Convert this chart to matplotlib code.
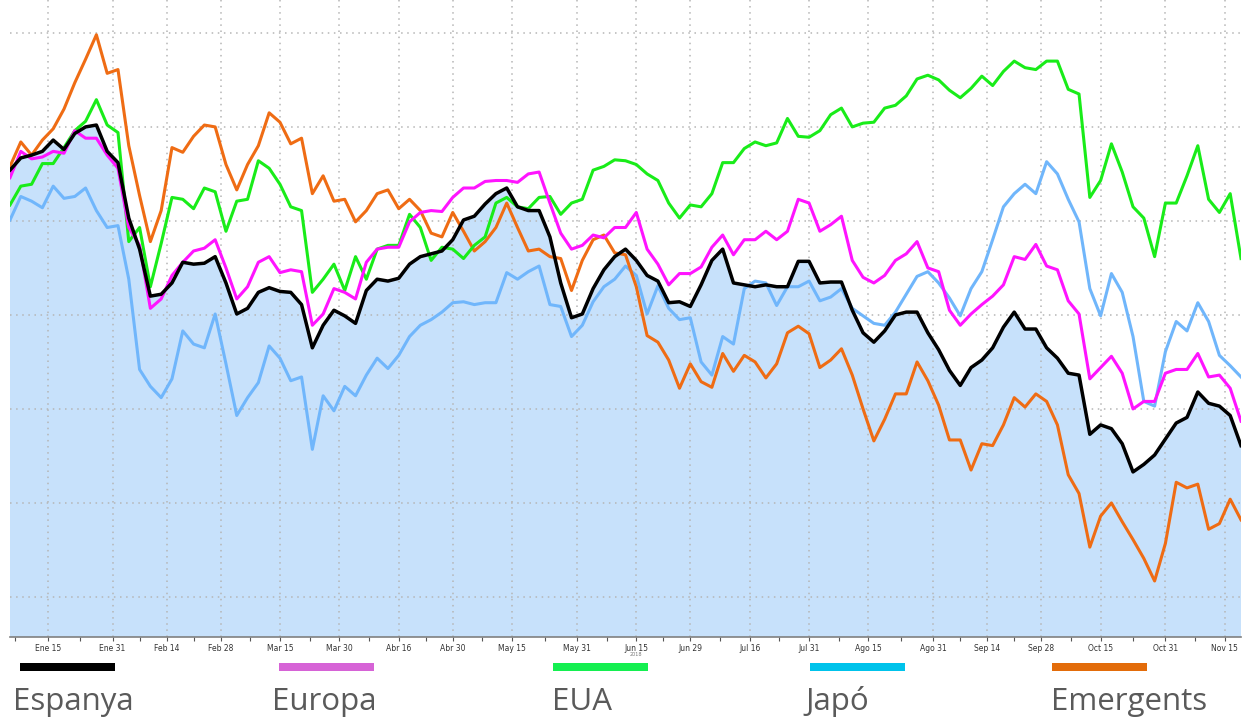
import numpy as np
import pandas as pd
import matplotlib
matplotlib.use("Agg")
import matplotlib.pyplot as plt
from matplotlib.patches import Rectangle
from matplotlib.ticker import FixedLocator
from matplotlib.transforms import blended_transform_factory

# ---------------- data ----------------
start_date = "2018-01-04"
end_date = "2018-11-20"
sample_step = 2  # one reading every two trading days

espanya = [105.4, 106.7, 107.0, 107.4, 108.6, 107.6, 109.3, 110.0, 110.2, 107.4,
           106.2, 100.3, 97.0, 92.0, 92.2, 93.4, 95.6, 95.4, 95.5, 96.2,
           93.4, 90.1, 90.7, 92.4, 92.9, 92.5, 92.4, 91.1, 86.5,
           88.9, 90.5, 89.9, 89.1, 92.6, 93.8, 93.6, 93.9, 95.4, 96.2, 96.5,
           96.8, 98.0, 100.1, 100.5, 101.8, 102.9, 103.5, 101.5, 101.1, 101.1,
           98.3, 93.4, 89.7, 90.1, 92.8, 94.8, 96.2, 97.0,
           95.8, 94.2, 93.6, 91.3, 91.4, 90.9, 93.2, 95.8, 97.0, 93.4, 93.2, 93.0,
           93.2, 93.0, 93.0, 95.7, 95.7, 93.4, 93.5, 93.5, 90.5, 88.1,
           87.1, 88.3, 90.0, 90.3, 90.3, 88.1, 86.3,
           84.1, 82.5, 84.4, 85.2, 86.5, 88.7, 90.3, 88.5, 88.5, 86.5, 85.4, 83.8, 83.6,
           77.3, 78.3, 77.9, 76.3, 73.3, 74.1, 75.1, 76.8, 78.5, 79.1,
           81.8, 80.6, 80.3, 79.3, 76.1]

europa = [104.6, 107.4, 106.6, 106.8, 107.4, 107.2, 109.6, 108.8, 108.8, 107.0,
          105.6, 99.3, 97.4, 90.7, 91.7, 94.2, 95.6, 96.8, 97.1, 98.0,
          95.0, 91.7, 93.0, 95.6, 96.2, 94.5, 94.8, 94.6, 88.9,
          90.1, 92.8, 92.4, 91.7, 95.6, 97.0, 97.2, 97.2, 99.9, 100.9, 101.1,
          101.0, 102.5, 103.5, 103.5, 104.2, 104.3, 104.3, 104.1, 105.0, 105.2,
          101.9, 98.7, 97.0, 97.4, 98.5, 98.2, 99.3, 99.3,
          100.9, 97.0, 95.4, 93.2, 94.4, 94.4, 95.1, 97.2, 98.5, 96.4, 98.0, 98.0,
          98.9, 98.0, 98.9, 102.3, 101.9, 98.9, 99.6, 100.5, 95.8, 94.0,
          93.4, 94.2, 95.8, 96.5, 97.8, 95.0, 94.6,
          90.5, 88.9, 90.1, 91.1, 92.0, 93.2, 96.2, 95.9, 97.5, 95.2, 94.8, 91.5, 90.1,
          83.2, 84.4, 85.6, 83.8, 80.0, 80.8, 80.8, 83.8, 84.2, 84.2,
          85.9, 83.4, 83.6, 82.2, 78.7]

eua = [101.7, 103.7, 103.9, 106.1, 106.1, 107.8, 109.6, 110.6, 112.9, 110.2,
       109.4, 97.8, 99.3, 93.0, 97.6, 102.5, 102.3, 101.3, 103.5, 103.1,
       98.9, 102.1, 102.3, 106.4, 105.6, 103.9, 101.5, 101.1, 92.4,
       93.8, 95.4, 92.6, 96.2, 93.8, 97.0, 97.4, 97.4, 100.7, 99.3, 95.8,
       97.2, 97.0, 96.0, 97.4, 98.3, 101.9, 102.5, 101.5, 101.3, 102.5,
       102.6, 100.7, 101.9, 102.3, 105.4, 105.8, 106.5, 106.4,
       106.0, 105.0, 104.3, 101.9, 100.3, 101.7, 101.5, 102.9, 106.2, 106.2, 107.7, 108.4,
       108.0, 108.3, 110.9, 109.0, 108.9, 109.6, 111.3, 112.0, 110.0, 110.4,
       110.5, 112.0, 112.3, 113.3, 115.1, 115.5, 115.0,
       113.9, 113.1, 114.1, 115.4, 114.4, 115.9, 117.0, 116.3, 116.1, 117.0, 117.0, 114.0, 113.5,
       102.5, 104.3, 108.2, 105.2, 101.5, 100.3, 96.2, 101.9, 101.9, 104.8,
       108.0, 102.3, 100.9, 102.9, 96.0]

japo = [100.1, 102.6, 102.1, 101.4, 103.7, 102.4, 102.6, 103.5, 101.1, 99.3,
        99.5, 93.8, 84.2, 82.4, 81.2, 83.2, 88.3, 86.9, 86.5, 90.1,
        84.8, 79.3, 81.2, 82.8, 86.7, 85.4, 83.0, 83.4, 75.7,
        81.4, 79.8, 82.4, 81.4, 83.6, 85.4, 84.3, 85.7, 87.7, 88.9, 89.5,
        90.3, 91.3, 91.4, 91.1, 91.3, 91.3, 94.5, 93.8, 94.6, 95.2,
        91.1, 90.9, 87.7, 88.9, 91.4, 93.0, 93.8, 95.2,
        94.2, 90.1, 93.1, 90.7, 89.5, 89.7, 85.0, 83.6, 87.7, 86.9, 92.8, 93.6,
        93.4, 91.0, 93.0, 93.0, 93.6, 91.5, 91.9, 92.8, 90.7, 89.9,
        89.1, 88.9, 90.3, 92.2, 94.1, 94.6, 93.4,
        91.8, 89.9, 92.8, 94.6, 98.0, 101.5, 102.9, 103.9, 102.9, 106.3, 105.0, 102.3, 99.9,
        92.8, 89.9, 94.4, 92.4, 87.7, 80.8, 80.3, 86.1, 89.3, 88.3,
        91.3, 89.3, 85.7, 84.6, 83.4]

emergents = [105.8, 108.4, 107.0, 108.6, 109.8, 111.9, 114.7, 117.2, 119.8, 115.7,
             116.1, 108.0, 102.7, 97.8, 101.1, 107.8, 107.3, 109.0, 110.2, 110.0,
             106.0, 103.3, 106.0, 108.0, 111.5, 110.5, 108.2, 108.8, 102.9,
             104.8, 102.1, 102.3, 99.9, 101.1, 102.9, 103.3, 101.3, 102.3, 101.1, 98.7,
             98.3, 100.9, 98.9, 96.8, 97.8, 99.3, 101.9, 99.3, 96.8, 97.0,
             96.2, 96.0, 92.6, 95.8, 98.0, 98.5, 96.6, 96.4,
             93.0, 87.8, 87.1, 85.2, 82.2, 84.8, 82.9, 82.3, 85.9, 84.0, 85.7, 85.0,
             83.3, 84.8, 88.1, 88.8, 88.0, 84.4, 85.2, 86.4, 83.6, 80.0,
             76.6, 78.9, 81.6, 81.6, 85.0, 83.0, 80.4,
             76.7, 76.7, 73.5, 76.3, 76.1, 78.3, 81.2, 80.2, 81.6, 80.8, 78.3, 73.0, 71.0,
             65.3, 68.6, 70.0, 68.0, 66.1, 64.1, 61.7, 65.7, 72.2, 71.6,
             72.0, 67.2, 67.8, 70.4, 68.2]

tick_dates = ["2018-01-15", "2018-01-31", "2018-02-14", "2018-02-28", "2018-03-15",
              "2018-03-30", "2018-04-16", "2018-04-30", "2018-05-15", "2018-05-31",
              "2018-06-15", "2018-06-29", "2018-07-16", "2018-07-31", "2018-08-15",
              "2018-08-31", "2018-09-14", "2018-09-28", "2018-10-15", "2018-10-31",
              "2018-11-15"]
tick_labels = ["Ene 15", "Ene 31", "Feb 14", "Feb 28", "Mar 15", "Mar 30", "Abr 16",
               "Abr 30", "May 15", "May 31", "Jun 15", "Jun 29", "Jul 16", "Jul 31",
               "Ago 15", "Ago 31", "Sep 14", "Sep 28", "Oct 15", "Oct 31", "Nov 15"]
year_label = "2018"
grid_levels = [60, 70, 80, 90, 100, 110, 120]

legend_names = ["Espanya", "Europa", "EUA", "Japó", "Emergents"]
legend_colors = ["#000000", "#d663d6", "#14ef50", "#00c3eb", "#e36c0a"]

# ---------------- styling / layout ----------------
W, H = 1242, 720
line_colors = {"espanya": "#000000", "europa": "#ff14ff", "eua": "#19ec19",
               "japo": "#70b6fb", "emergents": "#ef6c14"}
fill_color = "#c7e1fb"
legend_x_px = [20, 279, 553, 810, 1052]
legend_text_x_px = [13, 272, 552, 805, 1051]

days = pd.bdate_range(start_date, end_date)
x = np.arange(0, len(days), sample_step)

fig = plt.figure(figsize=(W / 100, H / 100), dpi=100)
fig.patch.set_facecolor("white")
ax = fig.add_axes([10 / W, 83 / H, (W - 11) / W, 637 / H])

ax.set_xlim(0, len(days) - 1)
ax.set_ylim(55.74, 123.5)

ax.fill_between(x, espanya, 0, color=fill_color, lw=0, zorder=1)
ax.set_axisbelow("line")

ax.plot(x, japo, color=line_colors["japo"], lw=2.2, zorder=3)
ax.plot(x, emergents, color=line_colors["emergents"], lw=2.2, zorder=4)
ax.plot(x, eua, color=line_colors["eua"], lw=2.2, zorder=4)
ax.plot(x, europa, color=line_colors["europa"], lw=2.2, zorder=5)
ax.plot(x, espanya, color=line_colors["espanya"], lw=2.5, zorder=6)

tick_pos = [days.get_loc(pd.Timestamp(d)) for d in tick_dates]
ax.xaxis.set_major_locator(FixedLocator(tick_pos))
ax.set_xticklabels(tick_labels)
half = (tick_pos[1] - tick_pos[0]) / 2
minor = [tick_pos[0] - half] + [(a + b) / 2 for a, b in zip(tick_pos[:-1], tick_pos[1:])]
ax.xaxis.set_minor_locator(FixedLocator(minor))
ax.yaxis.set_major_locator(FixedLocator(grid_levels))

ax.tick_params(axis="x", which="major", length=3, width=0.8, color="#555555",
               labelsize=5.5, labelcolor="#333333", pad=2)
ax.tick_params(axis="x", which="minor", length=3, width=0.8, color="#555555")
ax.tick_params(axis="y", length=0, labelleft=False)

ax.grid(True, which="major", axis="both", color="#b5b5b5", lw=1.1, ls=(0, (1, 3)))

for s in ["left", "right", "top"]:
    ax.spines[s].set_visible(False)
ax.spines["bottom"].set_color("#808080")
ax.spines["bottom"].set_linewidth(1.2)
ax.spines["bottom"].set_zorder(7)

trans = blended_transform_factory(ax.transData, fig.transFigure)
ax.text(tick_pos[10], (H - 654) / H, year_label, transform=trans, fontsize=3.5,
        color="#777777", ha="center", va="center")

for name, col, bx, tx in zip(legend_names, legend_colors, legend_x_px, legend_text_x_px):
    fig.patches.append(Rectangle((bx / W, (H - 671) / H), 95 / W, 8 / H,
                                 transform=fig.transFigure, color=col, lw=0))
    fig.text(tx / W, (H - 710) / H, name, fontsize=22.5, color="#5a5a5a",
             family=["Open Sans", "DejaVu Sans"], va="baseline", ha="left")

fig.savefig("out.png", dpi=100, facecolor="white")
